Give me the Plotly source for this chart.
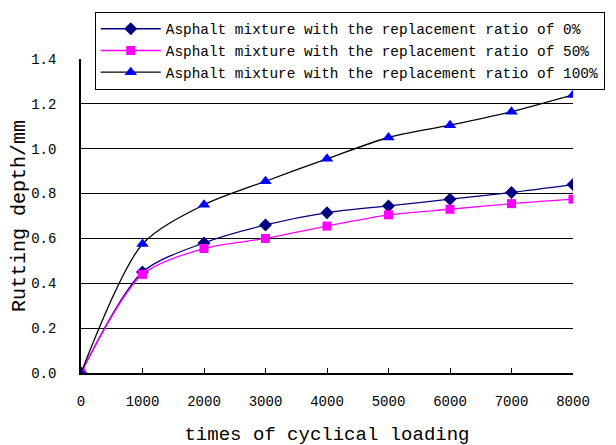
import plotly.graph_objects as go

cycles = [0, 1000, 2000, 3000, 4000, 5000, 6000, 7000, 8000]
ratio_0 = [0.0, 0.45, 0.58, 0.66, 0.715, 0.745, 0.775, 0.805, 0.84]
ratio_50 = [0.0, 0.44, 0.555, 0.60, 0.655, 0.705, 0.73, 0.755, 0.775]
ratio_100 = [0.0, 0.575, 0.75, 0.855, 0.955, 1.05, 1.105, 1.165, 1.24]
names = ["Asphalt mixture with the replacement ratio of 0%",
         "Asphalt mixture with the replacement ratio of 50%",
         "Asphalt mixture with the replacement ratio of 100%"]
y_ticks = [0.0, 0.2, 0.4, 0.6, 0.8, 1.0, 1.2, 1.4]

mono = "Liberation Mono"
fig = go.Figure()
fig.add_trace(go.Scatter(x=cycles, y=ratio_0, name=names[0], mode="lines+markers",
                         line=dict(color="#000080", width=1.3, shape="spline", smoothing=0.8),
                         marker=dict(symbol="diamond", size=10, color="#000080")))
fig.add_trace(go.Scatter(x=cycles, y=ratio_50, name=names[1], mode="lines+markers",
                         line=dict(color="#FF00FF", width=1.3, shape="spline", smoothing=0.8),
                         marker=dict(symbol="square", size=9, color="#FF00FF")))
fig.add_trace(go.Scatter(x=cycles, y=ratio_100, name=names[2], mode="lines+markers",
                         line=dict(color="#000000", width=1.3, shape="spline", smoothing=0.8),
                         marker=dict(symbol="triangle-up", size=11, color="#0000FF")))

fig.update_layout(
    width=616, height=445,
    margin=dict(l=73, r=51, t=51, b=80, autoexpand=False),
    paper_bgcolor="white", plot_bgcolor="white",
    font=dict(family=mono, color="#000000", size=14),
    legend=dict(x=0.028, y=1.15, xanchor="left", yanchor="top",
                bgcolor="white", bordercolor="#000000", borderwidth=1,
                font=dict(family=mono, size=14.4), tracegroupgap=0,
                itemwidth=60),
    xaxis=dict(range=[0, 8000], tickvals=cycles, ticktext=[str(c) for c in cycles],
               showline=True, linecolor="#000000", linewidth=1.5,
               ticks="inside", ticklen=5, tickcolor="#000000",
               showgrid=False, zeroline=False, ticklabelstandoff=14,
               tickfont=dict(family=mono, size=14), automargin=False,
               title=dict(text="times of cyclical loading", font=dict(family=mono, size=19), standoff=18)),
    yaxis=dict(range=[0, 1.4], tickvals=y_ticks, ticktext=["%.1f" % v for v in y_ticks],
               showline=True, linecolor="#000000", linewidth=1.5,
               ticks="outside", ticklen=20, tickcolor="rgba(0,0,0,0)",
               showgrid=True, gridcolor="#000000", gridwidth=1.2,
               zeroline=False, automargin=False,
               tickfont=dict(family=mono, size=14),
               title=dict(text="Rutting depth/mm", font=dict(family=mono, size=20), standoff=4)),
)
fig.write_html("out.html")
